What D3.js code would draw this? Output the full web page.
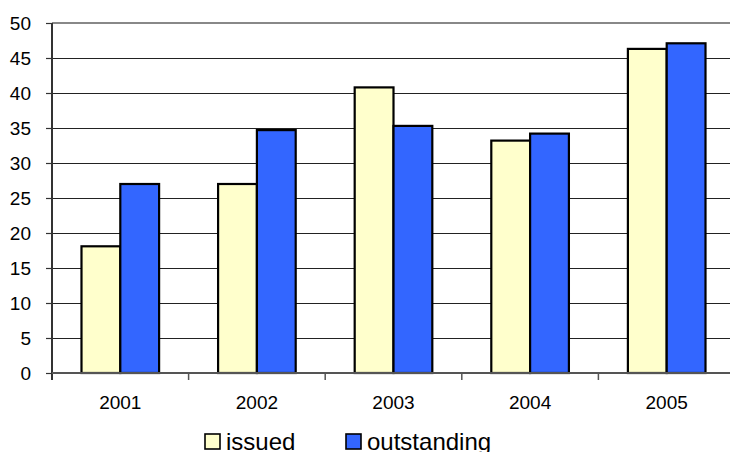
<!DOCTYPE html>
<html>
<head>
<meta charset="utf-8">
<script src="https://cdn.jsdelivr.net/npm/d3@7"></script>
<style>
  html, body { margin: 0; padding: 0; background: #fff; }
  svg { display: block; font-family: Arial, "Liberation Sans", sans-serif; }
</style>
</head>
<body>
<svg id="chart" width="730" height="452"></svg>
<script>
// Years on the category axis
const years = ["2001", "2002", "2003", "2004", "2005"];
// Series names and their values per year
const seriesNames = ["issued", "outstanding"];
const issued = [18.1, 27.0, 40.8, 33.2, 46.3];
const outstanding = [27.0, 34.7, 35.3, 34.2, 47.1];
// Value axis ticks
const yTicks = [0, 5, 10, 15, 20, 25, 30, 35, 40, 45, 50];

const colors = { issued: "#FFFFCC", outstanding: "#3366FF" };
const valuesBySeries = { issued, outstanding };

const svg = d3.select("#chart");
const plot = { left: 52, right: 735, top: 23, bottom: 373 };

const x0 = d3.scaleBand().domain(years).range([plot.left, plot.right]).padding(0);
const x1 = d3.scaleBand().domain(seriesNames).range([0, x0.bandwidth()])
  .paddingInner(0).paddingOuter(0.76);
const y = d3.scaleLinear().domain([0, 50]).range([plot.bottom, plot.top]);

// Horizontal gridlines
svg.append("g").selectAll("line")
  .data(yTicks.filter(t => t > 0 && t < 50))
  .join("line")
  .attr("x1", plot.left).attr("x2", plot.right)
  .attr("y1", d => Math.round(y(d)) + 0.5).attr("y2", d => Math.round(y(d)) + 0.5)
  .attr("stroke", "#222").attr("stroke-width", 1);

// Top border of the plot area
svg.append("line")
  .attr("x1", plot.left).attr("x2", plot.right)
  .attr("y1", y(50)).attr("y2", y(50))
  .attr("stroke", "#888").attr("stroke-width", 2);

// Bars
const groups = svg.append("g").selectAll("g")
  .data(years)
  .join("g")
  .attr("transform", d => `translate(${x0(d)},0)`);

groups.selectAll("rect")
  .data((d, i) => seriesNames.map(s => ({ s, v: valuesBySeries[s][i] })))
  .join("rect")
  .attr("x", d => x1(d.s))
  .attr("width", x1.bandwidth())
  .attr("y", d => y(d.v))
  .attr("height", d => y(0) - y(d.v))
  .attr("fill", d => colors[d.s])
  .attr("stroke", "#000")
  .attr("stroke-width", 2.2);

// Y axis
const yAxis = d3.axisLeft(y).tickValues(yTicks).tickSize(6).tickPadding(15);
const yg = svg.append("g").attr("transform", `translate(${plot.left},0)`).call(yAxis);
yg.select(".domain").attr("stroke", "#333").attr("stroke-width", 2)
  .attr("d", `M0,${plot.top}V${plot.bottom + 7}`);
yg.selectAll(".tick line").attr("stroke", "#333").attr("stroke-width", 1.2);
yg.selectAll(".tick text").attr("font-size", 19).attr("fill", "#000")
  .attr("font-family", "Arial, 'Liberation Sans', sans-serif");

// X axis: ticks on category boundaries, labels centred in each band
const xg = svg.append("g").attr("transform", `translate(0,${plot.bottom})`);
xg.append("line")
  .attr("x1", plot.left).attr("x2", plot.right)
  .attr("y1", 0).attr("y2", 0)
  .attr("stroke", "#555").attr("stroke-width", 2);
xg.selectAll("line.tick")
  .data(years.slice(1))
  .join("line")
  .attr("class", "tick")
  .attr("x1", d => x0(d)).attr("x2", d => x0(d))
  .attr("y1", 0).attr("y2", 7)
  .attr("stroke", "#555").attr("stroke-width", 1.5);
xg.selectAll("text")
  .data(years)
  .join("text")
  .attr("x", d => x0(d) + x0.bandwidth() / 2)
  .attr("y", 36)
  .attr("text-anchor", "middle")
  .attr("font-size", 19)
  .attr("fill", "#000")
  .text(d => d);

// Legend
const legendItems = [
  { s: "issued", x: 205 },
  { s: "outstanding", x: 346 }
];
const legend = svg.append("g").selectAll("g")
  .data(legendItems)
  .join("g")
  .attr("transform", d => `translate(${d.x},434)`);
legend.append("rect")
  .attr("width", 15).attr("height", 15)
  .attr("fill", d => colors[d.s])
  .attr("stroke", "#000").attr("stroke-width", 1.6);
legend.append("text")
  .attr("x", 21).attr("y", 16)
  .attr("font-size", 24)
  .attr("fill", "#000")
  .text(d => d.s);
</script>
</body>
</html>
